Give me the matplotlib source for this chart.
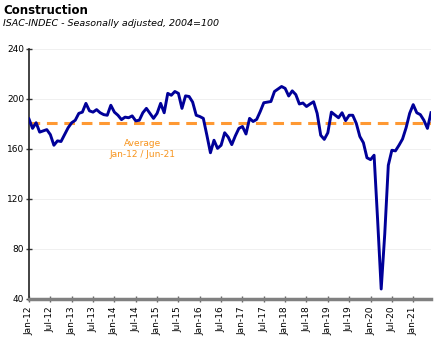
import numpy as np
import pandas as pd
import matplotlib
matplotlib.use("Agg")
import matplotlib.pyplot as plt

# ISAC monthly index, Jan-12 .. Jun-21
isac = [184, 176.5, 181, 173.5, 174.5, 175.5, 171.5, 163, 166.5, 166, 171.5, 177,
        181, 183, 188.5, 189.5, 196.5, 190.5, 189.5, 191.5, 189, 187.5, 187, 195,
        189.5, 187, 183.5, 185.5, 185, 186.5, 182.5, 183, 189, 192.5, 188.5, 184.5,
        188.5, 196.5, 189, 204.5, 203, 206, 204.5, 192.5, 202.5, 202, 197.5, 187,
        186, 184.5, 171, 157, 167, 160.5, 163, 173, 169.5, 163.5, 170.5, 176.5,
        178, 172, 184.5, 182, 183.7, 190, 197, 197.5, 198, 206, 208, 210,
        208.5, 202.4, 206.5, 203.5, 196, 196.8, 194, 196, 197.8, 188.5, 171, 167.7,
        173, 189.5, 187.2, 185, 189, 182.7, 187, 187, 180.5, 170, 165, 153,
        151.5, 155, 103, 48, 92, 147, 159, 158.5, 163, 168, 177, 188.5,
        195.5, 189, 187.5, 183, 176.5, 189]
months = pd.date_range("2012-01-01", periods=len(isac), freq="MS")
average = 181

tick_pos = list(range(0, len(isac), 6))
tick_labels = [months[i].strftime("%b-%y") for i in tick_pos]
yticks = [40, 80, 120, 160, 200, 240]

fig = plt.figure(figsize=(4.43, 3.5), dpi=100)
ax = fig.add_axes([29/443, 1-299/350, (431-29)/443, 250/350])

x = np.arange(len(isac))
ax.plot(x, isac, color="#000099", lw=2.1, zorder=3, solid_joinstyle="round")
ax.axhline(average, color="#FF9933", lw=2.2, ls=(0, (3.5, 2.2)), zorder=2)
ax.text(31.8, 160, "Average\nJan-12 / Jun-21", color="#F7941D", fontsize=6.5,
        ha="center", va="center", linespacing=1.3)

ax.set_xlim(0, len(isac)-1)
ax.set_ylim(40, 240)
ax.set_yticks(yticks)
ax.set_yticklabels([str(v) for v in yticks], fontsize=6.5)
ax.set_xticks(tick_pos)
ax.set_xticklabels(tick_labels, rotation=90, fontsize=6.5)
ax.tick_params(axis="y", direction="inout", length=5, width=1, color="#333333", pad=1)
ax.tick_params(axis="x", direction="inout", length=5, width=1, color="#666666", pad=3)
ax.grid(axis="y", color="#eeeeee", lw=0.6)
ax.set_axisbelow(True)
for s in ["top", "right"]:
    ax.spines[s].set_visible(False)
ax.spines["left"].set_color("#222222")
ax.spines["left"].set_linewidth(1.2)
ax.spines["bottom"].set_color("#808080")
ax.spines["bottom"].set_linewidth(2.5)

fig.text(3/443, 1-10/350, "Construction", fontsize=8.5, fontweight="bold", va="center")
fig.text(3/443, 1-24/350, "ISAC-INDEC - Seasonally adjusted, 2004=100", fontsize=6.8,
         style="italic", va="center")

fig.savefig("out.png", dpi=100)
